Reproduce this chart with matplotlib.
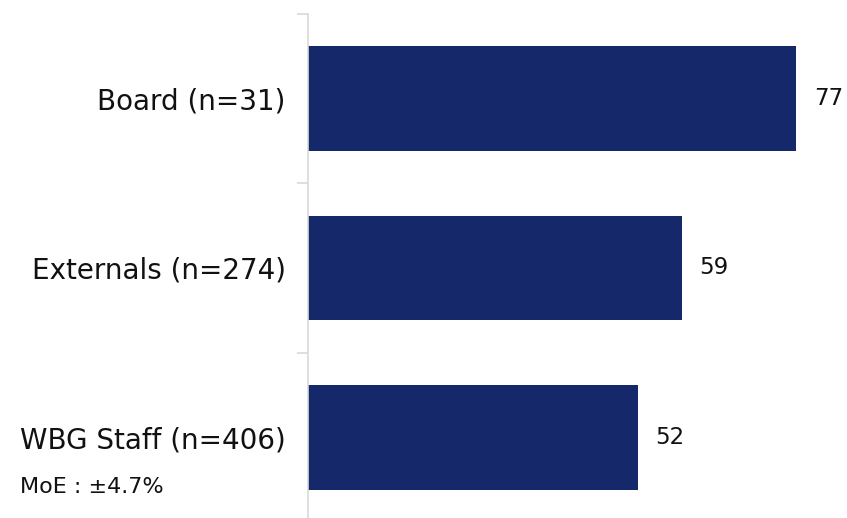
import matplotlib.pyplot as plt

categories = ["Board (n=31)", "Externals (n=274)", "WBG Staff (n=406)"]
values = [77, 59, 52]
moe_note = "MoE : \u00b14.7%"

bar_color = "#15286a"
grid_gray = "#d9d9d9"

fig = plt.figure(figsize=(8.47, 5.18), dpi=100)
ax = fig.add_axes([308 / 847, -4 / 518, 1 - 308 / 847, 508 / 518])

pos = list(range(len(categories)))
ax.barh(pos, values, height=0.62, color=bar_color)

for p, v in zip(pos, values):
    ax.annotate(str(v), (v, p), xytext=(12.5, 0), textcoords="offset points",
                ha="left", va="center", fontsize=16.5, color="#111111")

ax.set_xlim(0, 85)
ax.set_ylim(len(categories) - 0.5, -0.5)

ax.set_yticks(pos)
ax.set_yticklabels(categories, fontsize=20, color="#111111")
ax.tick_params(axis="y", which="major", length=0, pad=16)
ax.set_yticks([p - 0.5 for p in pos] + [len(categories) - 0.5], minor=True)
ax.tick_params(axis="y", which="minor", length=8, width=1.2, color=grid_gray)
ax.set_xticks([])

for side in ["top", "right", "bottom"]:
    ax.spines[side].set_visible(False)
ax.spines["left"].set_color(grid_gray)
ax.spines["left"].set_linewidth(1.2)

fig.text(20 / 847, 1 - 487 / 518, moe_note, fontsize=16, ha="left", va="center",
         color="#111111")

fig.savefig("out.png", dpi=100)
